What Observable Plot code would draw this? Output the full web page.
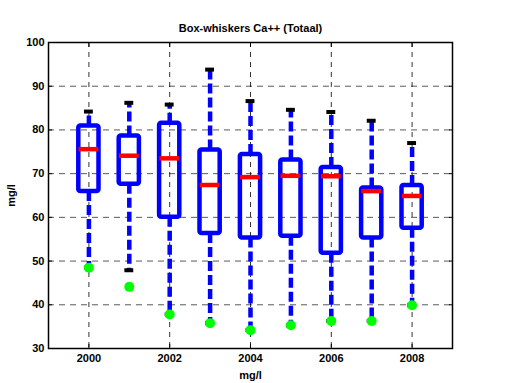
<!DOCTYPE html>
<html>
<head>
<meta charset="utf-8">
<script src="https://cdn.jsdelivr.net/npm/d3@7"></script>
<script src="https://cdn.jsdelivr.net/npm/@observablehq/plot@0.6"></script>
<style>
  html, body { margin: 0; padding: 0; background: #fff; }
</style>
</head>
<body>
<div id="chart"></div>
<script>
const title = "Box-whiskers Ca++ (Totaal)";
const years = [2000, 2001, 2002, 2003, 2004, 2005, 2006, 2007, 2008];
const q1 = [65.9, 67.6, 60.0, 56.3, 55.3, 55.7, 51.8, 55.3, 57.5];
const q3 = [80.9, 78.6, 81.5, 75.4, 74.4, 73.1, 71.4, 66.7, 67.3];
const medians = [75.6, 74.1, 73.5, 67.4, 69.2, 69.5, 69.4, 66.0, 64.9];
const upperCaps = [84.2, 86.2, 85.8, 93.8, 86.6, 84.6, 84.1, 82.1, 77.0];
const lowerCaps = [48.5, 47.9, 37.8, 35.8, 34.2, 35.3, 36.3, 36.3, 39.9];
const minima = [48.5, 44.1, 37.8, 35.8, 34.2, 35.3, 36.3, 36.3, 39.9];
const xTicks = [2000, 2002, 2004, 2006, 2008];
const yTicks = [30, 40, 50, 60, 70, 80, 90, 100];
const xLabel = "mg/l";
const yLabel = "mg/l";

const data = years.map((year, i) => ({
  year, q1: q1[i], q3: q3[i], median: medians[i],
  hi: upperCaps[i], lo: lowerCaps[i], min: minima[i]
}));

const halfBox = 0.25, halfMed = 0.245, halfCap = 0.11;
const blue = "#0000ff";

const chart = Plot.plot({
  width: 510,
  height: 383,
  marginLeft: 48,
  marginRight: 58,
  marginTop: 42,
  marginBottom: 35,
  style: {
    fontFamily: "'Liberation Sans', Arial, Helvetica, sans-serif",
    fontWeight: "bold",
    fontSize: "11px",
    background: "#fff",
    color: "#000"
  },
  x: { domain: [1999, 2009] },
  y: { domain: [30, 100] },
  marks: [
    Plot.gridX(xTicks, { stroke: "#000", strokeOpacity: 0.8, strokeDasharray: "5,5", strokeWidth: 1 }),
    Plot.gridY(yTicks.filter(d => d > 30 && d < 100), { stroke: "#000", strokeOpacity: 0.65, strokeDasharray: "6,5", strokeWidth: 1 }),
    Plot.frame({ stroke: "#000", strokeWidth: 1.5 }),
    Plot.ruleX(data, { x: "year", y1: "q3", y2: "hi", stroke: blue, strokeWidth: 4.5, strokeDasharray: "10,4" }),
    Plot.ruleX(data, { x: "year", y1: "q1", y2: "lo", stroke: blue, strokeWidth: 4.5, strokeDasharray: "10,4" }),
    Plot.rect(data, { x1: d => d.year - halfBox, x2: d => d.year + halfBox, y1: "q1", y2: "q3", fill: "none", stroke: blue, strokeWidth: 4.5, strokeLinejoin: "round", rx: 2 }),
    Plot.ruleY(data, { y: "median", x1: d => d.year - halfMed, x2: d => d.year + halfMed, stroke: "#ff0000", strokeWidth: 4.5 }),
    Plot.ruleY(data, { y: "hi", x1: d => d.year - halfCap, x2: d => d.year + halfCap, stroke: "#000", strokeWidth: 4 }),
    Plot.ruleY(data, { y: "lo", x1: d => d.year - halfCap, x2: d => d.year + halfCap, stroke: "#000", strokeWidth: 4 }),
    Plot.dot(data, { x: "year", y: "min", r: 5, fill: "#00ff00", stroke: "none" }),
    Plot.axisX({ ticks: xTicks, tickSize: -4, tickPadding: 10, tickFormat: d => String(d), label: xLabel, labelAnchor: "center", labelOffset: 30, labelArrow: "none", fontWeight: "bold", fontSize: 11 }),
    Plot.axisX({ anchor: "top", ticks: xTicks, tickSize: -4, tickFormat: () => "", label: null }),
    Plot.axisY({ ticks: yTicks, tickSize: -4, tickPadding: 8, tickFormat: d => String(d), label: yLabel, labelAnchor: "center", labelOffset: 41, labelArrow: "none", fontWeight: "bold", fontSize: 11 }),
    Plot.axisY({ anchor: "right", ticks: yTicks, tickSize: -4, tickFormat: () => "", label: null }),
    Plot.text([title], { frameAnchor: "top", dy: -14, lineAnchor: "middle", fontWeight: "bold", fontSize: 11 })
  ]
});

document.getElementById("chart").appendChild(chart);
</script>
</body>
</html>
